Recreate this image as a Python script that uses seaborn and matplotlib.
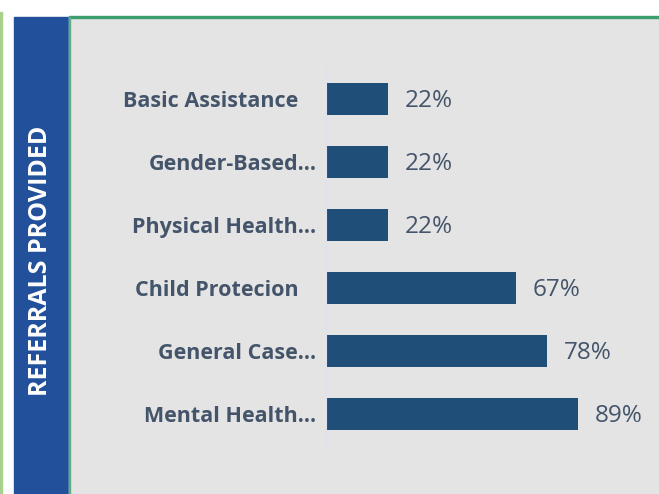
import pandas as pd
import seaborn as sns
import matplotlib.pyplot as plt
from matplotlib.patches import Rectangle
from matplotlib.transforms import ScaledTranslation

categories = ["Basic Assistance", "Gender-Based…", "Physical Health…",
              "Child Protecion", "General Case…", "Mental Health…"]
values = [22, 22, 22, 67, 78, 89]
side_title = "REFERRALS PROVIDED"

W, H = 659, 494
text_color = "#44546A"
bar_color = "#1F4E79"

sns.set_theme(style="white")
plt.rcParams['font.family'] = ['Open Sans', 'DejaVu Sans']

fig = plt.figure(figsize=(W / 100, H / 100), dpi=100)
fig.patch.set_facecolor("white")

# frame pieces, in pixel units converted to figure fractions
def px_rect(x0, y0, x1, y1, color):
    fig.patches.append(Rectangle((x0 / W, 1 - y1 / H), (x1 - x0) / W, (y1 - y0) / H,
                                 transform=fig.transFigure, color=color, zorder=0))

px_rect(0, 12, 1.5, H, "#A9D18E")          # thin green line on far left
px_rect(14, 17, 69, H, "#22509A")          # blue side band
px_rect(69, 17, W, H, "#E4E4E4")           # gray panel
px_rect(69, 16, W, 18.5, "#3F9E6E")        # green top border
px_rect(69, 17, 70, H, "#5FAF86")          # green left border of panel

fig.text(41 / W, 1 - 261 / H, side_title, rotation=90, color="white",
         fontsize=18, fontweight="bold", ha="center", va="center")

df = pd.DataFrame({"category": categories, "value": values})

ax = fig.add_axes([326 / W, 1 - 445.5 / H, (W - 326) / W, 378 / H])
ax.set_zorder(2)
ax.set_facecolor("none")
sns.barplot(data=df, x="value", y="category", color=bar_color, width=0.5,
            saturation=1, linewidth=0, ax=ax)
ax.set_xlim(0, (W - 326) / 2.83)
ax.set_ylim(5.5, -0.5)

for c in ax.containers:
    texts = ax.bar_label(c, labels=[f"{v:.0f}%" for v in values], padding=12,
                         fontsize=17.5, color=text_color)
    for t in texts:
        # nudge down a touch so the numbers sit on the bar centre
        t.xyann = (t.xyann[0], t.xyann[1] - 1.5)

ax.set_xlabel("")
ax.set_ylabel("")
ax.set_xticks([])
ax.tick_params(axis="y", length=0, pad=7)
for lbl in ax.get_yticklabels():
    lbl.set_fontweight("bold")
    lbl.set_fontsize(15.5)
    lbl.set_color(text_color)
    # labels that were not cut short sit a bit further left in the original
    if not lbl.get_text().endswith("…"):
        lbl.set_transform(lbl.get_transform()
                          + ScaledTranslation(-18 / 100, 0, fig.dpi_scale_trans))
for side in ["top", "right", "bottom"]:
    ax.spines[side].set_visible(False)
ax.spines["left"].set_color("#DCE3EC")
ax.spines["left"].set_linewidth(0.8)

fig.savefig("out.png", dpi=100)
